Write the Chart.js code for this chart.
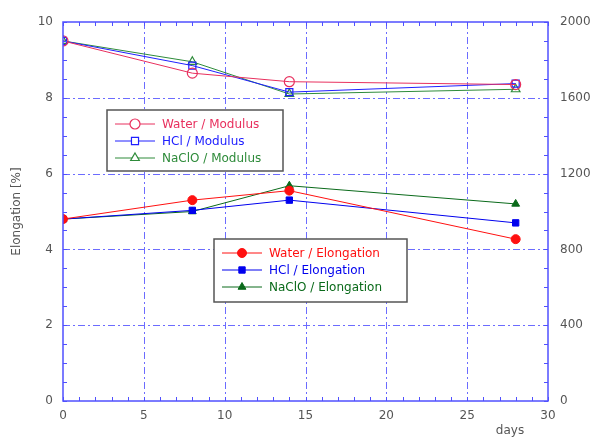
<!DOCTYPE html>
<html>
<head>
<meta charset="utf-8">
<script src="https://cdn.jsdelivr.net/npm/chart.js@4"></script>
<style>
  html, body { margin: 0; padding: 0; background: #fff; }
  #wrap { width: 597px; height: 438px; }
</style>
</head>
<body>
<div id="wrap"><canvas id="chart" width="597" height="438"></canvas></div>
<script>
const days = [0, 8, 14, 28];
const waterModulus = [1900, 1730, 1685, 1670];
const hclModulus = [1900, 1770, 1630, 1675];
const naclModulus = [1900, 1790, 1620, 1645];
const waterElong = [4.8, 5.3, 5.55, 4.27];
const hclElong = [4.8, 5.03, 5.3, 4.7];
const naclElong = [4.8, 5.0, 5.68, 5.2];

const xTicks = [0, 5, 10, 15, 20, 25, 30];
const yTicks = [0, 2, 4, 6, 8, 10];
const y2Ticks = [0, 400, 800, 1200, 1600, 2000];

const BLUE = '#5050ff';
const GRID = '#6c6cff';
const FONT = '"DejaVu Sans", sans-serif';

const pts = (ys) => days.map((d, i) => ({ x: d, y: ys[i] }));

function modSet(label, ys, color, style) {
  return {
    label, data: pts(ys), yAxisID: 'y2',
    borderColor: color, backgroundColor: '#fff', borderWidth: 1,
    pointStyle: style, pointRadius: 5, pointBorderWidth: 1.2,
    pointBorderColor: color, pointBackgroundColor: 'rgba(255,255,255,0)',
    legendGroup: 1
  };
}
function elSet(label, ys, color, style) {
  return {
    label, data: pts(ys), yAxisID: 'y',
    borderColor: color, backgroundColor: color, borderWidth: 1,
    pointStyle: style, pointRadius: 4.5, pointBorderWidth: 1,
    pointBorderColor: color, pointBackgroundColor: color,
    legendGroup: 2
  };
}

// dashed grid under the data
const grid = {
  id: 'grid',
  beforeDatasetsDraw(chart) {
    const { ctx, chartArea: a, scales } = chart;
    ctx.save();
    ctx.strokeStyle = GRID;
    ctx.lineWidth = 1;
    ctx.setLineDash([7, 3, 2, 3]);
    ctx.beginPath();
    xTicks.slice(1, -1).forEach(v => {
      const px = Math.round(scales.x.getPixelForValue(v)) + 0.5;
      ctx.moveTo(px, a.top); ctx.lineTo(px, a.bottom);
    });
    yTicks.slice(1, -1).forEach(v => {
      const py = Math.round(scales.y.getPixelForValue(v)) + 0.5;
      ctx.moveTo(a.left, py); ctx.lineTo(a.right, py);
    });
    ctx.stroke();
    ctx.restore();
  }
};

// minor ticks, frame, "days" label and the two boxed legends
const decor = {
  id: 'decor',
  afterDatasetsDraw(chart) {
    const { ctx, chartArea: a, scales } = chart;
    ctx.save();
    ctx.strokeStyle = BLUE;
    ctx.lineWidth = 1;
    ctx.beginPath();
    for (let v = 0; v <= 30; v += 1) {
      const px = Math.round(scales.x.getPixelForValue(v)) + 0.5;
      ctx.moveTo(px, a.bottom); ctx.lineTo(px, a.bottom - 4);
      ctx.moveTo(px, a.top); ctx.lineTo(px, a.top + 4);
    }
    for (let v = 0; v <= 10; v += 0.5) {
      const py = Math.round(scales.y.getPixelForValue(v)) + 0.5;
      ctx.moveTo(a.left, py); ctx.lineTo(a.left + 4, py);
      ctx.moveTo(a.right, py); ctx.lineTo(a.right - 4, py);
    }
    ctx.stroke();
    ctx.lineWidth = 1.5;
    ctx.strokeRect(a.left, a.top, a.right - a.left, a.bottom - a.top);

    ctx.fillStyle = '#555';
    ctx.font = '12px ' + FONT;
    ctx.textAlign = 'center';
    ctx.textBaseline = 'middle';
    ctx.fillText('days', 510, 431);

    const boxes = [
      { group: 1, x: 107, y: 110, w: 176, h: 61 },
      { group: 2, x: 214, y: 239, w: 193, h: 63 }
    ];
    boxes.forEach(b => {
      ctx.fillStyle = '#fff';
      ctx.fillRect(b.x, b.y, b.w, b.h);
      ctx.strokeStyle = '#555';
      ctx.lineWidth = 1.5;
      ctx.strokeRect(b.x, b.y, b.w, b.h);
      const sets = chart.data.datasets.filter(d => d.legendGroup === b.group);
      sets.forEach((d, i) => {
        const cy = b.y + 14 + i * 17;
        ctx.strokeStyle = d.borderColor;
        ctx.lineWidth = 1;
        ctx.beginPath();
        ctx.moveTo(b.x + 8, cy); ctx.lineTo(b.x + 48, cy);
        ctx.stroke();
        ctx.fillStyle = d.legendGroup === 1 ? '#fff' : d.pointBackgroundColor;
        ctx.strokeStyle = d.pointBorderColor;
        ctx.lineWidth = d.pointBorderWidth;
        Chart.helpers.drawPoint(ctx, {
          pointStyle: d.pointStyle, radius: d.pointRadius, borderWidth: d.pointBorderWidth, rotation: 0
        }, b.x + 28, cy);
        ctx.fillStyle = d.borderColor;
        ctx.font = '12px ' + FONT;
        ctx.textAlign = 'left';
        ctx.fillText(d.label, b.x + 55, cy + 1);
      });
    });
    ctx.restore();
  }
};

const tickFont = { family: FONT, size: 12 };

new Chart(document.getElementById('chart').getContext('2d'), {
  type: 'line',
  data: {
    datasets: [
      modSet('Water / Modulus', waterModulus, '#e8305e', 'circle'),
      modSet('HCl / Modulus', hclModulus, '#2020ff', 'rect'),
      modSet('NaClO / Modulus', naclModulus, '#2e8b3a', 'triangle'),
      elSet('Water / Elongation', waterElong, '#ff1010', 'circle'),
      elSet('HCl / Elongation', hclElong, '#0000ee', 'rect'),
      elSet('NaClO / Elongation', naclElong, '#0a6a1a', 'triangle')
    ]
  },
  options: {
    responsive: false,
    animation: false,
    layout: { padding: { top: 22, right: 0, left: 0, bottom: 0 } },
    plugins: { legend: { display: false }, tooltip: { enabled: false } },
    scales: {
      x: {
        type: 'linear', min: 0, max: 30,
        afterBuildTicks: s => { s.ticks = xTicks.map(v => ({ value: v })); },
        afterFit: s => { s.height = 37; },
        grid: { display: false, drawTicks: false },
        border: { display: false },
        ticks: { color: '#555', font: tickFont, padding: 8, maxRotation: 0 }
      },
      y: {
        position: 'left', min: 0, max: 10,
        afterBuildTicks: s => { s.ticks = yTicks.map(v => ({ value: v })); },
        afterFit: s => { s.width = 63; },
        grid: { display: false, drawTicks: false },
        border: { display: false },
        ticks: { color: '#555', font: tickFont, padding: 10 },
        title: { display: true, text: 'Elongation [%]', color: '#555', font: tickFont, padding: { top: 10, bottom: 0 } }
      },
      y2: {
        position: 'right', min: 0, max: 2000,
        afterBuildTicks: s => { s.ticks = y2Ticks.map(v => ({ value: v })); },
        afterFit: s => { s.width = 49; },
        grid: { display: false, drawTicks: false },
        border: { display: false },
        ticks: { color: '#555', font: tickFont, padding: 12, callback: v => String(v) }
      }
    }
  },
  plugins: [grid, decor]
});
</script>
</body>
</html>
